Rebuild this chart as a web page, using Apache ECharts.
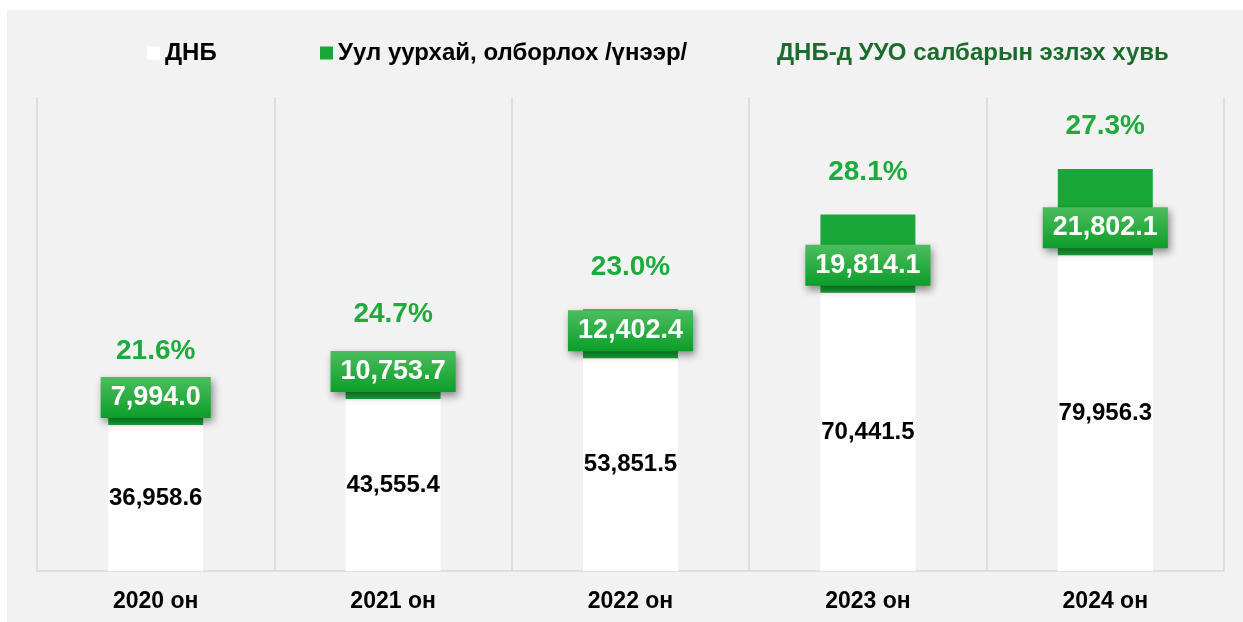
<!DOCTYPE html>
<html>
<head>
<meta charset="utf-8">
<script src="https://cdn.jsdelivr.net/npm/echarts@6/dist/echarts.min.js"></script>
<style>
  html, body { margin: 0; padding: 0; background: #ffffff; }
  #chart { position: absolute; left: 7px; top: 10px; width: 1236px; height: 612px; background: #f2f2f2; }
</style>
</head>
<body>
<div id="chart"></div>
<script>
// data
const years = ['2020 он', '2021 он', '2022 он', '2023 он', '2024 он']
const gdp = [36958.6, 43555.4, 53851.5, 70441.5, 79956.3]
const mining = [7994.0, 10753.7, 12402.4, 19814.1, 21802.1]
const miningShare = [21.6, 24.7, 23.0, 28.1, 27.3]

const names = ['ДНБ', 'Уул уурхай, олборлох /үнээр/', 'ДНБ-д УУО салбарын эзлэх хувь']

const fmt = (v) => v.toLocaleString('en-US', { minimumFractionDigits: 1, maximumFractionDigits: 1 })
const totals = gdp.map((v, i) => v + mining[i])

const chart = echarts.init(document.getElementById('chart'))

const legendText = { fontFamily: 'Liberation Sans, Arial', fontWeight: 'bold', fontSize: 24, color: '#000' }

const option = {
  animation: false,
  backgroundColor: '#f2f2f2',
  legend: [
    {
      data: [names[0]],
      left: 135, top: 26,
      itemWidth: 13, itemHeight: 13,
      icon: 'rect',
      textStyle: legendText
    },
    {
      data: [names[1]],
      left: 308, top: 26,
      itemWidth: 13, itemHeight: 13,
      icon: 'rect',
      textStyle: legendText
    },
    {
      data: [{ name: names[2], itemStyle: { opacity: 0 }, textStyle: { color: '#1b6b2c' } }],
      left: 747, top: 26,
      itemWidth: 13, itemHeight: 13,
      icon: 'rect',
      textStyle: legendText
    }
  ],
  grid: { left: 30, right: 19, top: 87, bottom: 51 },
  xAxis: {
    type: 'category',
    data: years,
    boundaryGap: true,
    axisLine: { lineStyle: { color: '#d9d9d9', width: 1.5 } },
    axisTick: { show: false },
    splitLine: { show: true, lineStyle: { color: '#d9d9d9', width: 1.5 } },
    axisLabel: {
      margin: 19,
      fontFamily: 'Liberation Sans, Arial',
      fontWeight: 'bold',
      fontSize: 23,
      color: '#000'
    }
  },
  yAxis: {
    type: 'value',
    min: 0,
    max: 120000,
    show: false,
    splitLine: { show: false }
  },
  series: [
    {
      name: names[0],
      type: 'bar',
      stack: 'total',
      data: gdp,
      barWidth: 95,
      itemStyle: { color: '#ffffff' },
      label: {
        show: true,
        position: 'inside',
        formatter: (p) => fmt(p.value),
        fontFamily: 'Liberation Sans, Arial',
        fontWeight: 'bold',
        fontSize: 24,
        color: '#000'
      }
    },
    {
      name: names[1],
      type: 'bar',
      stack: 'total',
      data: mining,
      barWidth: 95,
      itemStyle: { color: '#19a838' },
      label: {
        show: true,
        position: 'insideBottom',
        distance: 7,
        formatter: (p) => fmt(p.value),
        fontFamily: 'Liberation Sans, Arial',
        fontWeight: 'bold',
        fontSize: 27,
        color: '#fff',
        padding: [7, 10, 7, 10],
        backgroundColor: new echarts.graphic.LinearGradient(0, 0, 0, 1, [
          { offset: 0, color: '#4dbd5e' },
          { offset: 1, color: '#0b9e29' }
        ]),
        shadowBlur: 8,
        shadowOffsetX: 2,
        shadowOffsetY: 4,
        shadowColor: 'rgba(0,0,0,0.45)'
      }
    },
    {
      // percent share shown as text above each stack
      name: names[2],
      type: 'line',
      data: totals,
      symbol: 'circle',
      symbolSize: 1,
      showSymbol: true,
      lineStyle: { opacity: 0 },
      itemStyle: { color: 'rgba(0,0,0,0)' },
      label: {
        show: true,
        position: 'top',
        distance: 28,
        formatter: (p) => miningShare[p.dataIndex].toFixed(1) + '%',
        fontFamily: 'Liberation Sans, Arial',
        fontWeight: 'bold',
        fontSize: 28,
        color: '#1faa3e'
      }
    }
  ]
}

chart.setOption(option)
window.addEventListener('resize', () => chart.resize())
</script>
</body>
</html>
